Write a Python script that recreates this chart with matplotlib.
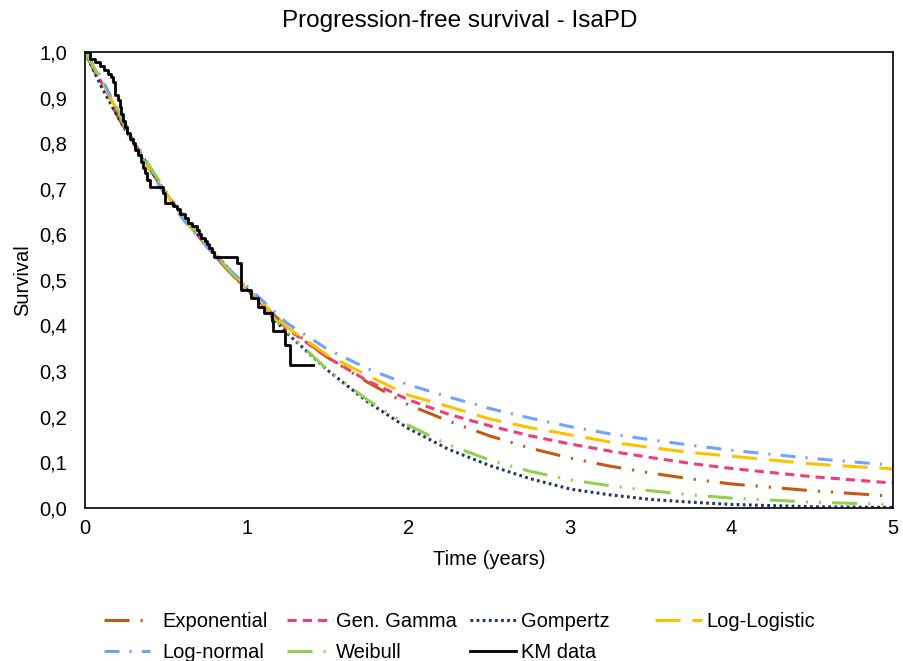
import matplotlib
matplotlib.use('Agg')
import matplotlib.pyplot as plt

plt.rcParams['font.family'] = ['Liberation Sans', 'DejaVu Sans']

# time grid for the fitted curves (years)
t_fit = [0, 0.1, 0.2, 0.3, 0.4, 0.5, 0.625, 0.75, 0.875, 1.0, 1.25, 1.5, 1.75,
         2.0, 2.25, 2.5, 2.75, 3.0, 3.25, 3.5, 3.75, 4.0, 4.5, 5.0]

s_exponential = [1.0, 0.928, 0.86, 0.80, 0.745, 0.69, 0.63, 0.575, 0.525, 0.478, 0.397, 0.33, 0.275,
                 0.226, 0.19, 0.158, 0.131, 0.109, 0.091, 0.076, 0.063, 0.052, 0.037, 0.025]
s_gengamma = [1.0, 0.935, 0.87, 0.805, 0.745, 0.69, 0.63, 0.575, 0.525, 0.48, 0.393, 0.33, 0.278,
              0.237, 0.205, 0.18, 0.158, 0.14, 0.124, 0.11, 0.097, 0.086, 0.068, 0.054]
s_gompertz = [1.0, 0.925, 0.86, 0.80, 0.745, 0.69, 0.632, 0.58, 0.53, 0.48, 0.383, 0.302, 0.232,
              0.174, 0.128, 0.093, 0.064, 0.041, 0.028, 0.018, 0.012, 0.007, 0.002, 0.0005]
s_loglogistic = [1.0, 0.94, 0.87, 0.80, 0.74, 0.69, 0.63, 0.577, 0.528, 0.484, 0.396, 0.335, 0.29,
                 0.247, 0.222, 0.195, 0.176, 0.16, 0.144, 0.132, 0.121, 0.113, 0.096, 0.085]
s_lognormal = [1.0, 0.945, 0.875, 0.80, 0.74, 0.685, 0.625, 0.575, 0.53, 0.487, 0.405, 0.348, 0.305,
               0.27, 0.243, 0.218, 0.197, 0.178, 0.162, 0.149, 0.137, 0.126, 0.108, 0.093]
s_weibull = [1.0, 0.94, 0.875, 0.81, 0.75, 0.695, 0.635, 0.58, 0.528, 0.48, 0.386, 0.303, 0.236,
             0.181, 0.138, 0.105, 0.08, 0.061, 0.048, 0.037, 0.028, 0.021, 0.012, 0.007]

# Kaplan-Meier steps
km_t = [0, 0.03, 0.06, 0.09, 0.12, 0.14, 0.16, 0.175, 0.185, 0.205, 0.215, 0.225, 0.238, 0.25,
        0.26, 0.28, 0.295, 0.31, 0.33, 0.345, 0.36, 0.37, 0.385, 0.40, 0.485, 0.495, 0.546,
        0.567, 0.59, 0.62, 0.64, 0.66, 0.69, 0.705, 0.72, 0.74, 0.755, 0.77, 0.785, 0.80,
        0.94, 0.965, 1.03, 1.07, 1.11, 1.155, 1.165, 1.235, 1.27, 1.41]
km_s = [1.0, 0.986, 0.978, 0.97, 0.962, 0.953, 0.945, 0.935, 0.906, 0.895, 0.88, 0.865, 0.85, 0.835,
        0.822, 0.81, 0.80, 0.785, 0.775, 0.76, 0.745, 0.735, 0.72, 0.705, 0.69, 0.668, 0.662,
        0.655, 0.645, 0.635, 0.626, 0.618, 0.61, 0.60, 0.593, 0.585, 0.578, 0.57, 0.562, 0.551,
        0.537, 0.478, 0.46, 0.441, 0.427, 0.409, 0.387, 0.357, 0.314, 0.314]

y_ticks = [0.0, 0.1, 0.2, 0.3, 0.4, 0.5, 0.6, 0.7, 0.8, 0.9, 1.0]
y_labels = ['0,0', '0,1', '0,2', '0,3', '0,4', '0,5', '0,6', '0,7', '0,8', '0,9', '1,0']
x_ticks = [0, 1, 2, 3, 4, 5]

fig = plt.figure(figsize=(9.04, 6.61), dpi=100)
ax = fig.add_axes([0.094, 0.232, 0.894, 0.689])

lw = 2.2
h_exp, = ax.plot(t_fit, s_exponential, color='#C55A11', lw=lw,
                 linestyle=(0, (8.2, 3.6, 0.7, 3.6, 0.7, 3.6)), label='Exponential')
h_gg, = ax.plot(t_fit, s_gengamma, color='#F03C78', lw=lw,
                linestyle=(0, (3, 2)), label='Gen. Gamma')
h_gomp, = ax.plot(t_fit, s_gompertz, color='#203864', lw=lw,
                  linestyle=(0, (0.9, 1.1)), label='Gompertz')
h_ll, = ax.plot(t_fit, s_loglogistic, color='#FFC000', lw=lw,
                linestyle=(0, (8.2, 3.9)), label='Log-Logistic')
h_ln, = ax.plot(t_fit, s_lognormal, color='#6FA3FF', lw=lw,
                linestyle=(0, (4.9, 3.3, 0.7, 3.3)), label='Log-normal')
h_wb, = ax.plot(t_fit, s_weibull, color='#92D050', lw=lw,
                linestyle=(0, (8.2, 3.6, 0.7, 3.6, 0.7, 3.6)), label='Weibull')
h_km, = ax.plot(km_t, km_s, color='black', lw=2, drawstyle='steps-post', label='KM data')

fs = 14.5
ax.set_xlim(0, 5)
ax.set_ylim(0, 1)
ax.set_xticks(x_ticks)
ax.set_yticks(y_ticks)
ax.set_yticklabels(y_labels)
ax.tick_params(axis='y', length=0, labelsize=fs, pad=13)
ax.tick_params(axis='x', length=0, labelsize=fs, pad=8)
for s in ax.spines.values():
    s.set_color('black')
    s.set_linewidth(1.2)

ax.set_xlabel('Time (years)', fontsize=fs, labelpad=9)
ax.set_ylabel('Survival', fontsize=fs, labelpad=5)
fig.text(0.509, 0.968, 'Progression-free survival - IsaPD', ha='center', va='center', fontsize=17.5)

# legend: one box per column so the columns line up like the original
cols = [([h_exp, h_ln], 0.115, 0.6), ([h_gg, h_wb], 0.317, 0.15),
        ([h_gomp, h_km], 0.52, 0.25), ([h_ll], 0.725, 0.25)]
for hs, x0, pad in cols:
    fig.legend(handles=hs, loc='upper left', bbox_to_anchor=(x0, 0.074),
               frameon=False, fontsize=fs, handlelength=2.3, handletextpad=pad,
               labelspacing=0.6, borderpad=0, borderaxespad=0)

fig.savefig('out.png', dpi=100)
